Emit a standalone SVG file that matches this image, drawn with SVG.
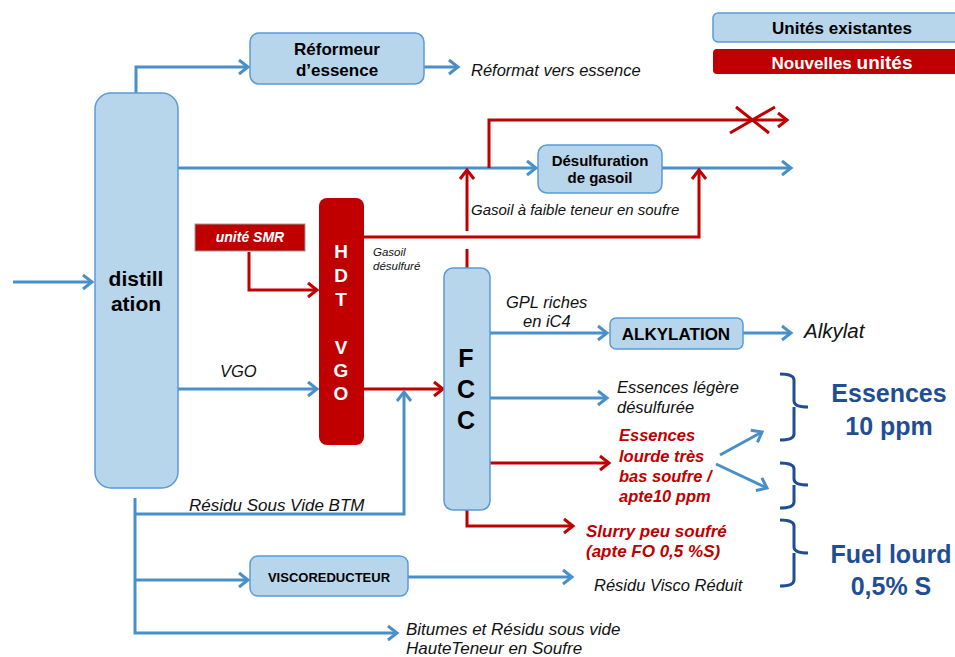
<svg xmlns="http://www.w3.org/2000/svg" width="955" height="657" viewBox="0 0 955 657">
<style>
text{font-family:"Liberation Sans",Arial,sans-serif}
.box{fill:#B7D5EB;stroke:#5B9BD5;stroke-width:1.5}
.red{fill:#C00000}
.bl{fill:none;stroke:#4A90C8;stroke-width:3}
.rl{fill:none;stroke:#C00000;stroke-width:3}
.br{fill:none;stroke:#1F4E96;stroke-width:3}
.b{font-weight:bold;fill:#000;text-anchor:middle}
.i{font-style:italic;fill:#111}
.ri{font-style:italic;font-weight:bold;fill:#C00000}
.big{font-weight:bold;fill:#1F4E96;text-anchor:middle;font-size:25px}
.w{font-weight:bold;fill:#fff;text-anchor:middle}
</style>
<defs>
<marker id="ab" markerWidth="14" markerHeight="18" refX="11" refY="9" orient="auto" markerUnits="userSpaceOnUse"><path d="M2,2 L11,9 L2,16" fill="none" stroke="#4A90C8" stroke-width="3"/></marker>
<marker id="ar" markerWidth="14" markerHeight="18" refX="11" refY="9" orient="auto" markerUnits="userSpaceOnUse"><path d="M2,2 L11,9 L2,16" fill="none" stroke="#C00000" stroke-width="3"/></marker>
</defs>
<g id="connectors">
<path class="bl" d="M13,282 H92" marker-end="url(#ab)"/>
<path class="bl" d="M136,93 V67 H248" marker-end="url(#ab)"/>
<path class="bl" d="M424,67 H458" marker-end="url(#ab)"/>
<path class="bl" d="M178,168 H536" marker-end="url(#ab)"/>
<path class="bl" d="M662,168 H791" marker-end="url(#ab)"/>
<path class="rl" d="M489,168 V120 H787" marker-end="url(#ar)"/>
<path class="rl" d="M730,133 L775,107 M736,107 L769,133"/>
<path class="rl" d="M467,268 V249"/>
<path class="rl" d="M467,231 V170" marker-end="url(#ar)"/>
<path class="rl" d="M364,237 H699 V170" marker-end="url(#ar)"/>
<path class="rl" d="M249,252 V290 H317" marker-end="url(#ar)"/>
<path class="bl" d="M178,389 H317" marker-end="url(#ab)"/>
<path class="rl" d="M364,389 H443" marker-end="url(#ar)"/>
<path class="bl" d="M135,498 V633 H397" marker-end="url(#ab)"/>
<path class="bl" d="M135,514 H404 V392" marker-end="url(#ab)"/>
<path class="bl" d="M135,580 H248" marker-end="url(#ab)"/>
<path class="bl" d="M408,577 H572" marker-end="url(#ab)"/>
<path class="bl" d="M490,333 H607" marker-end="url(#ab)"/>
<path class="bl" d="M743,333 H791" marker-end="url(#ab)"/>
<path class="bl" d="M490,398 H607" marker-end="url(#ab)"/>
<path class="rl" d="M490,463 H609" marker-end="url(#ar)"/>
<path class="rl" d="M467,510 V526 H573" marker-end="url(#ar)"/>
<path class="bl" d="M720,455 L762,432" marker-end="url(#ab)"/>
<path class="bl" d="M716,464 L767,488" marker-end="url(#ab)"/>
</g>
<g id="distillation">
<rect class="box" x="95" y="93" width="83" height="395" rx="16"/>
<text class="b" x="136" y="286" font-size="21">distill</text>
<text class="b" x="136" y="311" font-size="21">ation</text>
</g>
<g id="reformeur">
<rect class="box" x="250" y="33" width="174" height="51" rx="9"/>
<text class="b" x="337" y="55" font-size="17">Réformeur</text>
<text class="b" x="337" y="76" font-size="17">d’essence</text>
</g>
<text class="i" x="471" y="76" font-size="16.5">Réformat vers essence</text>
<g id="legend-existantes">
<rect class="box" x="713" y="13" width="250" height="29" rx="5"/>
<text class="b" x="842" y="34" font-size="17">Unités existantes</text>
</g>
<g id="legend-nouvelles">
<rect class="red" x="713" y="49" width="250" height="25" rx="4"/>
<text class="w" x="842" y="69" font-size="17">Nouvelles <tspan font-size="19">unités</tspan></text>
</g>
<g id="desulfuration">
<rect class="box" x="538" y="145" width="124" height="48" rx="9"/>
<text class="b" x="600" y="166" font-size="15">Désulfuration</text>
<text class="b" x="600" y="183" font-size="15">de gasoil</text>
</g>
<text class="i" x="471" y="215" font-size="15">Gasoil à faible teneur en  soufre</text>
<g id="smr">
<rect class="red" x="195" y="224" width="110" height="27" stroke="#999" stroke-width="1"/>
<text class="w" x="250" y="242" font-size="14" font-style="italic">unité SMR</text>
</g>
<g id="hdt-vgo">
<rect class="red" x="319" y="198" width="45" height="247" rx="8"/>
<text class="w" x="341" y="258" font-size="19">H</text>
<text class="w" x="341" y="282" font-size="19">D</text>
<text class="w" x="341" y="306" font-size="19">T</text>
<text class="w" x="341" y="354" font-size="19">V</text>
<text class="w" x="341" y="377" font-size="19">G</text>
<text class="w" x="341" y="400" font-size="19">O</text>
</g>
<text class="i" x="373" y="256" font-size="11.5">Gasoil</text>
<text class="i" x="373" y="270" font-size="11.5">désulfuré</text>
<text class="i" x="220" y="377" font-size="16.5">VGO</text>
<g id="fcc">
<rect class="box" x="444" y="268" width="46" height="242" rx="9"/>
<text class="b" x="466" y="367" font-size="25">F</text>
<text class="b" x="466" y="398" font-size="25">C</text>
<text class="b" x="466" y="429" font-size="25">C</text>
</g>
<text class="i" x="189" y="511" font-size="17">Résidu Sous Vide BTM</text>
<g id="viscoreducteur">
<rect class="box" x="250" y="556" width="158" height="40" rx="8"/>
<text class="b" x="329" y="582" font-size="13">VISCOREDUCTEUR</text>
</g>
<text class="i" x="594" y="591" font-size="16.5">Résidu Visco Réduit</text>
<text class="i" x="406" y="635" font-size="17">Bitumes et Résidu sous vide</text>
<text class="i" x="406" y="654" font-size="17">HauteTeneur en Soufre</text>
<text class="i" x="506" y="308" font-size="16.5">GPL riches</text>
<text class="i" x="523" y="327" font-size="16.5">en iC4</text>
<g id="alkylation">
<rect class="box" x="610" y="318" width="133" height="31" rx="6"/>
<text class="b" x="676" y="340" font-size="17">ALKYLATION</text>
</g>
<text class="i" x="804" y="338" font-size="20.5">Alkylat</text>
<text class="i" x="617" y="393" font-size="16.5">Essences légère</text>
<text class="i" x="617" y="413" font-size="16.5">désulfurée</text>
<text class="ri" x="619" y="441" font-size="16.5">Essences</text>
<text class="ri" x="619" y="462" font-size="16.5">lourde très</text>
<text class="ri" x="619" y="482" font-size="16.5">bas soufre /</text>
<text class="ri" x="619" y="502" font-size="16.5">apte10 ppm</text>
<text class="ri" x="586" y="537" font-size="17">Slurry peu soufré</text>
<text class="ri" x="586" y="557" font-size="17">(apte FO 0,5 %S)</text>
<g id="braces">
<path class="br" d="M780,374 Q794,374 794,380 V401 Q794,407 808,407 M794,407 V434 Q794,440 780,440"/>
<path class="br" d="M780,463 Q794,463 794,469 V479 Q794,485 808,485 M794,485 V502 Q794,508 780,508"/>
<path class="br" d="M780,520 Q794,520 794,526 V547 Q794,553 808,553 M794,553 V580 Q794,586 780,586"/>
</g>
<text class="big" x="889" y="402">Essences</text>
<text class="big" x="889" y="435">10 ppm</text>
<text class="big" x="891" y="563">Fuel lourd</text>
<text class="big" x="891" y="595">0,5% S</text>
</svg>
